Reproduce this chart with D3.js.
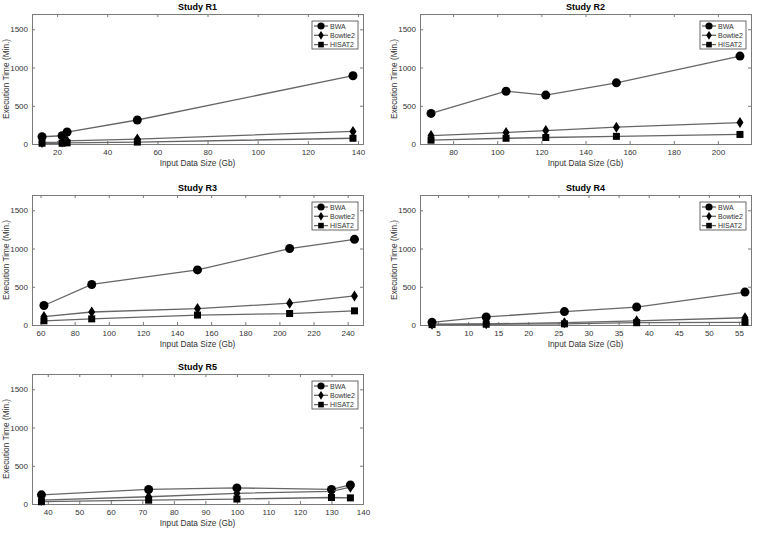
<!DOCTYPE html>
<html>
<head>
<meta charset="utf-8">
<script src="https://cdn.jsdelivr.net/npm/d3@7/dist/d3.min.js"></script>
<style>
body { margin: 0; background: #fff; }
svg { font-family: "Liberation Sans", Arial, sans-serif; }
.axis text { font-size: 8px; fill: #333; }
.axis path, .axis line { stroke: #7a7a7a; }
</style>
</head>
<body>
<script>
// data
var studies = ['Study R1', 'Study R2', 'Study R3', 'Study R4', 'Study R5'];
var toolNames = ['BWA', 'Bowtie2', 'HISAT2'];

var sizeR1 = [14, 22, 24, 52, 138];
var bwaR1 = [95, 108, 157, 314, 893];
var bowtieR1 = [20, 25, 40, 65, 165];
var hisatR1 = [10, 10, 15, 25, 75];

var sizeR2 = [70, 104, 122, 154, 210];
var bwaR2 = [400, 690, 640, 800, 1150];
var bowtieR2 = [110, 150, 175, 220, 280];
var hisatR2 = [50, 75, 85, 100, 125];

var sizeR3 = [62, 90, 152, 206, 244];
var bwaR3 = [255, 530, 720, 1000, 1120];
var bowtieR3 = [110, 170, 215, 285, 380];
var hisatR3 = [55, 80, 130, 150, 185];

var sizeR4 = [4, 13, 26, 38, 56];
var bwaR4 = [35, 105, 175, 235, 430];
var bowtieR4 = [10, 15, 30, 55, 95];
var hisatR4 = [5, 10, 15, 30, 35];

var sizeR5 = [38, 72, 100, 130, 136];
var bwaR5 = [120, 190, 210, 190, 250];
var bowtieR5 = [50, 95, 140, 165, 220];
var hisatR5 = [30, 50, 65, 85, 80];

var xDomains = [[10, 142], [65, 215], [55, 249], [2, 57], [35, 140]];
var xTicks = [
  [20, 40, 60, 80, 100, 120, 140],
  [80, 100, 120, 140, 160, 180, 200],
  [60, 80, 100, 120, 140, 160, 180, 200, 220, 240],
  [5, 10, 15, 20, 25, 30, 35, 40, 45, 50, 55],
  [40, 50, 60, 70, 80, 90, 100, 110, 120, 130, 140]
];
var yTicks = [0, 500, 1000, 1500];

var panels = [
  {x: sizeR1, s: [bwaR1, bowtieR1, hisatR1]},
  {x: sizeR2, s: [bwaR2, bowtieR2, hisatR2]},
  {x: sizeR3, s: [bwaR3, bowtieR3, hisatR3]},
  {x: sizeR4, s: [bwaR4, bowtieR4, hisatR4]},
  {x: sizeR5, s: [bwaR5, bowtieR5, hisatR5]}
];

var W = 759, H = 534;
var colLeft = [32, 420], rowTop = [14, 195, 374];
var pw = 331, ph = 130;

var svg = d3.select('body').append('svg').attr('width', W).attr('height', H);

function drawMarker(g, k) {
  if (k === 0) {
    g.append('circle').attr('r', 4.5).attr('fill', '#000');
  } else if (k === 1) {
    g.append('path').attr('d', 'M0,-5.5L3.5,0L0,5.5L-3.5,0Z').attr('fill', '#000');
  } else {
    g.append('rect').attr('x', -3.5).attr('y', -3.5).attr('width', 7).attr('height', 7).attr('fill', '#000');
  }
}

panels.forEach(function(p, i) {
  var left = colLeft[i % 2], top = rowTop[Math.floor(i / 2)];
  var g = svg.append('g').attr('transform', 'translate(' + left + ',' + top + ')');

  var x = d3.scaleLinear().domain(xDomains[i]).range([0, pw]);
  var y = d3.scaleLinear().domain([0, 1700]).range([ph, 0]);

  g.append('g').attr('class', 'axis').attr('transform', 'translate(0,' + ph + ')')
    .call(d3.axisBottom(x).tickValues(xTicks[i]).tickSize(-3).tickPadding(5).tickFormat(d3.format('d')));
  g.append('g').attr('class', 'axis')
    .call(d3.axisTop(x).tickValues(xTicks[i]).tickSize(-3).tickFormat(''));
  g.append('g').attr('class', 'axis')
    .call(d3.axisLeft(y).tickValues(yTicks).tickSize(-3).tickPadding(4).tickFormat(d3.format('d')));
  g.append('g').attr('class', 'axis').attr('transform', 'translate(' + pw + ',0)')
    .call(d3.axisRight(y).tickValues(yTicks).tickSize(-3).tickFormat(''));

  var line = d3.line().x(function(d) { return x(d[0]); }).y(function(d) { return y(d[1]); });

  p.s.forEach(function(vals, k) {
    var pts = p.x.map(function(v, j) { return [v, vals[j]]; });
    g.append('path').datum(pts).attr('d', line)
      .attr('fill', 'none').attr('stroke', '#666').attr('stroke-width', 1.3);
    pts.forEach(function(d) {
      var m = g.append('g').attr('transform', 'translate(' + x(d[0]) + ',' + y(d[1]) + ')');
      drawMarker(m, k);
    });
  });

  // title + labels
  g.append('text').attr('x', pw / 2).attr('y', -4).attr('text-anchor', 'middle')
    .attr('font-size', 9).attr('font-weight', 'bold').text(studies[i]);
  g.append('text').attr('x', pw / 2).attr('y', ph + 22).attr('text-anchor', 'middle')
    .attr('font-size', 8.3).attr('fill', '#333').text('Input Data Size (Gb)');
  g.append('text').attr('transform', 'translate(-23,' + ph / 2 + ') rotate(-90)')
    .attr('text-anchor', 'middle').attr('font-size', 8.3).attr('fill', '#333')
    .text('Execution Time (Min.)');

  // legend
  var lg = g.append('g').attr('transform', 'translate(' + (pw - 51) + ',7)');
  lg.append('rect').attr('width', 46).attr('height', 28)
    .attr('fill', '#fff').attr('stroke', '#444').attr('stroke-width', 0.8);
  toolNames.forEach(function(name, k) {
    var row = lg.append('g').attr('transform', 'translate(0,' + (5 + k * 9.3) + ')');
    row.append('line').attr('x1', 2).attr('x2', 16)
      .attr('stroke', '#666').attr('stroke-width', 1.3);
    var m = row.append('g').attr('transform', 'translate(9,0) scale(0.8)');
    drawMarker(m, k);
    row.append('text').attr('x', 18).attr('y', 2.5).attr('font-size', 7)
      .attr('fill', '#333').text(name);
  });
});
</script>
</body>
</html>
